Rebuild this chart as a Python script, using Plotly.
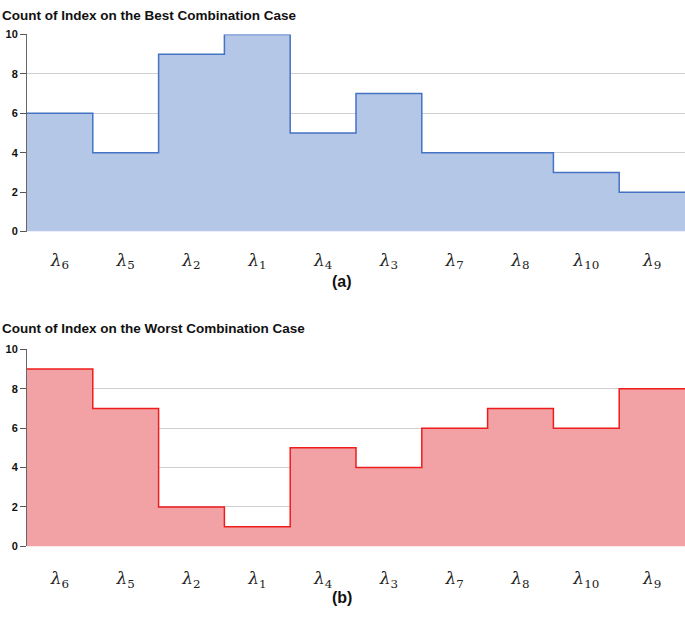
import plotly.graph_objects as go

categories = ["6", "5", "2", "1", "4", "3", "7", "8", "10", "9"]
best_counts = [6, 4, 9, 10, 5, 7, 4, 4, 3, 2]
worst_counts = [9, 7, 2, 1, 5, 4, 6, 7, 6, 8]
y_ticks = [0, 2, 4, 6, 8, 10]

W, H = 685, 625
n = len(categories)
xs = list(range(n + 1))
ticktext = [f"<i>λ</i><sub>{c}</sub>" for c in categories]
tickvals = [i + 0.5 for i in range(n)]

fig = go.Figure()
fig.add_trace(go.Scatter(
    x=xs, y=best_counts + [best_counts[-1]], mode="lines", line_shape="hv",
    line=dict(color="#4472c4", width=1.5), fill="tozeroy", fillcolor="rgba(180,199,231,1)",
    xaxis="x", yaxis="y", showlegend=False, hoverinfo="skip"))
fig.add_trace(go.Scatter(
    x=xs, y=worst_counts + [worst_counts[-1]], mode="lines", line_shape="hv",
    line=dict(color="#ee1c1c", width=1.5), fill="tozeroy", fillcolor="rgba(242,162,164,1)",
    xaxis="x2", yaxis="y2", showlegend=False, hoverinfo="skip"))

def py(px):
    return 1 - px / H

xdom = [27 / W, 1]
xcommon = dict(range=[0, n], tickvals=tickvals, ticktext=ticktext, showgrid=False,
               zeroline=False, showline=False, ticks="",
               tickfont=dict(family="DejaVu Serif", size=17, color="#222"))
ycommon = dict(range=[0, 10], tickvals=y_ticks, showgrid=True, gridcolor="#d0d0d0", gridwidth=1,
               zeroline=False, showline=True, linecolor="#666", linewidth=1,
               ticks="outside", ticklen=6, tickcolor="#555",
               tickfont=dict(family="Arial", size=11, color="#111", weight="bold"))

fig.update_layout(
    width=W, height=H, margin=dict(l=0, r=0, t=0, b=0),
    paper_bgcolor="white", plot_bgcolor="white",
    xaxis=dict(domain=xdom, anchor="y", ticklabelstandoff=16, **xcommon),
    yaxis=dict(domain=[py(230), py(29)], anchor="x", **ycommon),
    xaxis2=dict(domain=xdom, anchor="y2", ticklabelstandoff=20, **xcommon),
    yaxis2=dict(domain=[py(551), py(350)], anchor="x2", **ycommon),
)

annots = [
    dict(text="<b>Count of Index on the Best Combination Case</b>", x=0, y=py(0), xanchor="left", yanchor="top", size=13.5),
    dict(text="<b>Count of Index on the Worst Combination Case</b>", x=0, y=py(319), xanchor="left", yanchor="top", size=13.5),
    dict(text="<b>(a)</b>", x=342 / W, y=py(281), xanchor="center", yanchor="middle", size=16),
    dict(text="<b>(b)</b>", x=342 / W, y=py(603), xanchor="center", yanchor="middle", size=16),
]
for a in annots:
    fig.add_annotation(text=a["text"], x=a["x"], y=a["y"], xref="paper", yref="paper",
                       xanchor=a["xanchor"], yanchor=a["yanchor"], showarrow=False,
                       font=dict(family="Liberation Sans, Arial", size=a["size"], color="#111"))

fig.write_html("out.html", config={"displayModeBar": False},
               post_script="document.body.style.margin='0';document.body.style.overflow='hidden';")
